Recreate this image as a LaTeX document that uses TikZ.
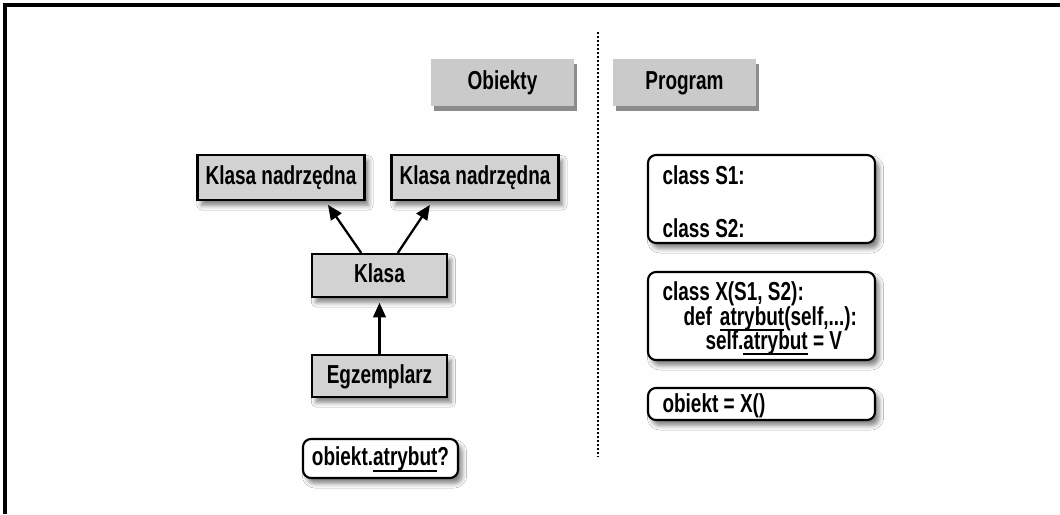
\documentclass[tikz,border=0pt]{standalone}
\usepackage{fontspec}
\setmainfont[FakeStretch=0.73]{Liberation Sans}
\usetikzlibrary{arrows.meta,shadows,shadows.blur}

\newcommand{\undl}[1]{\setbox0\hbox{#1}\rlap{\rule[-4.5pt]{\wd0}{1.6pt}}\box0\relax}

\tikzset{every picture/.style={line width=0.75pt}}
\tikzset{
  cien/.style={blur shadow={shadow xshift=3pt,shadow yshift=-4pt,shadow blur radius=3.5pt,shadow opacity=50}},
  klasa/.style={draw,line width=1.6pt,fill={rgb, 255:red, 210; green, 210; blue, 210 },inner sep=0pt,
    font=\bfseries\fontsize{19.5}{22}\selectfont,text height=14pt,text depth=3pt,cien},
  zaokr/.style={draw,line width=1.6pt,fill=white,rounded corners=6pt,inner sep=0pt,
    font=\bfseries\fontsize{19.5}{22}\selectfont,text height=14pt,text depth=3pt,cien},
  naglowek/.style={fill={rgb, 255:red, 202; green, 202; blue, 202 },inner sep=0pt,
    font=\bfseries\fontsize{19.5}{22}\selectfont,text height=14pt,text depth=3pt,
    copy shadow={shadow xshift=2.5pt,shadow yshift=-3.5pt,fill={rgb, 255:red, 140; green, 140; blue, 140 },draw=none}},
  kod/.style={font=\bfseries\fontsize{19.5}{22}\selectfont,inner sep=0pt},
  strzalka/.style={line width=1.7pt,-{Triangle[length=11pt,width=9.5pt]},shorten >=3.5pt}
}

\begin{document}
\begin{tikzpicture}[x=0.75pt,y=0.75pt,yscale=-1,xscale=1]
\useasboundingbox (0,0) rectangle (1060,514);

%Shape: Frame
\draw [line width=3pt]  (5,514) -- (5,5) -- (1060,5) ;
%Shape: Rectangle (background)
\fill [color={rgb, 255:red, 254; green, 254; blue, 254 }]  (190,31) rectangle (887,492) ;
%Straight Lines (divider)
\draw [line width=1.5pt,dash pattern={on 1.5pt off 1.5pt}]  (598,32) -- (598,457) ;

% Headers
\draw (502.5,82.5) node [naglowek,minimum width=107.25pt,minimum height=35.25pt] (obiekty) {Obiekty};
\draw (684.5,82.5) node [naglowek,minimum width=107.25pt,minimum height=35.25pt] (program) {Program};

% Class boxes
\draw (281,177.5) node [klasa,minimum width=125.25pt,minimum height=33.75pt] (nadrz1) {Klasa nadrzędna};
\draw (475,177.5) node [klasa,minimum width=125.25pt,minimum height=33.75pt] (nadrz2) {Klasa nadrzędna};
\draw (379.5,275.5) node [klasa,minimum width=101.25pt,minimum height=32.25pt] (klasa) {Klasa};
\draw (379.5,376) node [klasa,minimum width=101.25pt,minimum height=31.5pt] (egz) {Egzemplarz};
\draw (380.5,458.5) node [zaokr,minimum width=116.25pt,minimum height=29.25pt] (pytanie) {obiekt.\undl{atrybut}?};

% Arrows
\draw [strzalka]  (klasa.129) -- (nadrz1.-28) ;
\draw [strzalka]  (klasa.51) -- (nadrz2.-151) ;
\draw [strzalka]  (egz.north) -- (klasa.south) ;

% Code boxes
\draw (761.5,199) node [zaokr,minimum width=170.25pt,minimum height=66pt] (kodS) {};
\draw (761.5,316) node [zaokr,minimum width=170.25pt,minimum height=66pt] (kodX) {};
\draw (761.5,404) node [zaokr,minimum width=170.25pt,minimum height=24pt] (kodobj) {};

% Text Node
\draw (662,184) node [kod,anchor=base west] (s1) {class S1:};
% Text Node
\draw (662,237) node [kod,anchor=base west] (s2) {class S2:};
% Text Node
\draw (662,300) node [kod,anchor=base west] (x1) {class X(S1, S2):};
% Text Node
\draw (683,325) node [kod,anchor=base west] (x2) {def\hspace{6pt}\undl{atrybut}(self,...):};
% Text Node
\draw (705,349) node [kod,anchor=base west] (x3) {self.\undl{atrybut} = V};
% Text Node
\draw (662,412) node [kod,anchor=base west] (obj) {obiekt = X()};

\end{tikzpicture}
\end{document}
